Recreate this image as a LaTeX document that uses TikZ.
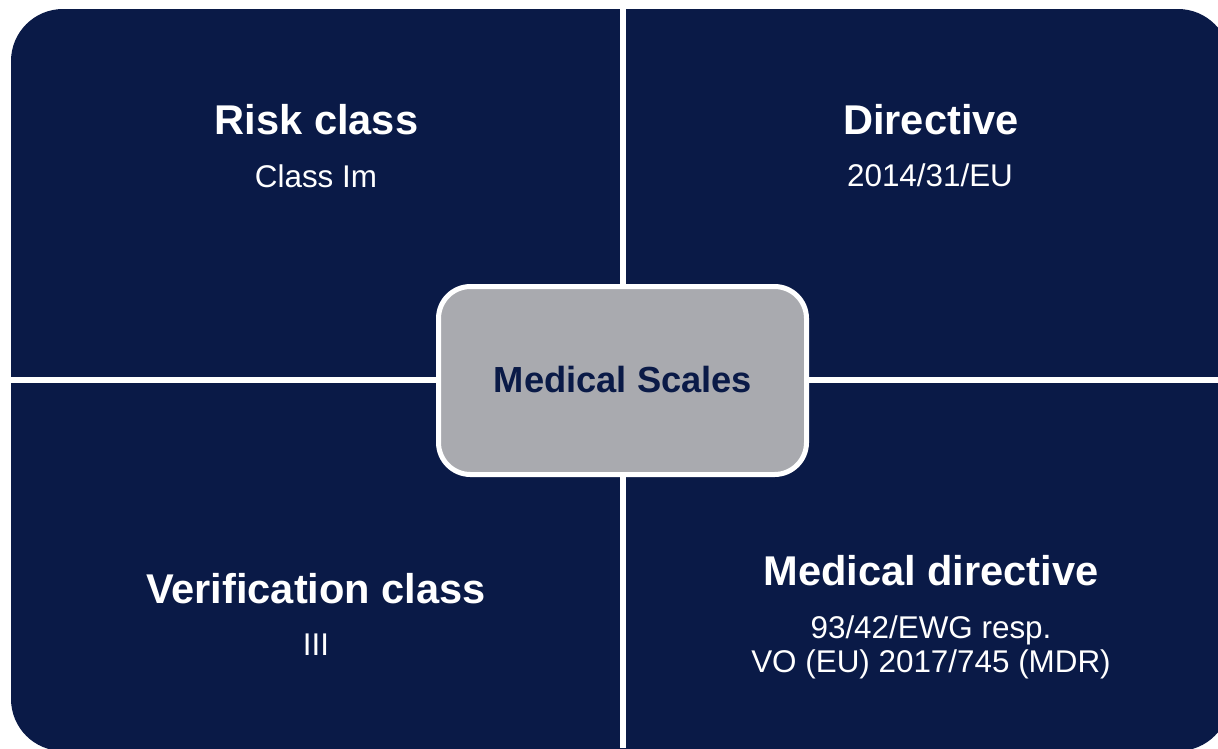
\documentclass[tikz,border=0pt]{standalone}
\usepackage{fontspec}
\setmainfont{Liberation Sans}
\definecolor{navy}{HTML}{0A1A47}
\definecolor{boxgrey}{HTML}{A9AAAF}
\tikzset{
  headtxt/.style={anchor=base, text=white, font=\fontsize{41.6}{46}\selectfont\bfseries, inner sep=0pt},
  subtxt/.style={anchor=base, text=white, font=\fontsize{31.4}{34}\selectfont, inner sep=0pt, align=center},
  divider/.style={fill=white, draw=none},
  centerbox/.style={fill=boxgrey, draw=white, line width=5pt, rounded corners=32pt},
  centertxt/.style={text=navy, font=\fontsize{36.3}{40}\selectfont\bfseries, inner sep=0pt}
}
\begin{document}
\begin{tikzpicture}[x=1pt,y=-1pt]
\useasboundingbox (0,0) rectangle (1218,748);
\begin{scope}
\clip (0,0) rectangle (1218,748);
\fill[white] (0,0) rectangle (1218,748);
\fill[navy, rounded corners=52pt] (11,9) rectangle (1230,751);
\fill[divider] (620,0) rectangle (626,748);
\fill[divider] (0,377) rectangle (1218,383);
\end{scope}
\draw[centerbox] (438.5,286.5) rectangle (806.5,474.5);
\node[centertxt] (center) at (623,380) {Medical Scales};
\node[headtxt] (riskh) at (316.5,134) {Risk class};
\node[subtxt] (riskv) at (316,187) {Class Im};
\node[headtxt] (dirh) at (931,134) {Directive};
\node[subtxt] (dirv) at (930,186) {2014/31/EU};
\node[headtxt] (verh) at (316,603) {Verification class};
\node[subtxt] (verv) at (316,655) {III};
\node[headtxt] (medh) at (931,585) {Medical directive};
\node[subtxt] (medv1) at (931,638) {93/42/EWG resp.};
\node[subtxt] (medv2) at (931,672) {VO (EU) 2017/745 (MDR)};
\end{tikzpicture}
\end{document}
